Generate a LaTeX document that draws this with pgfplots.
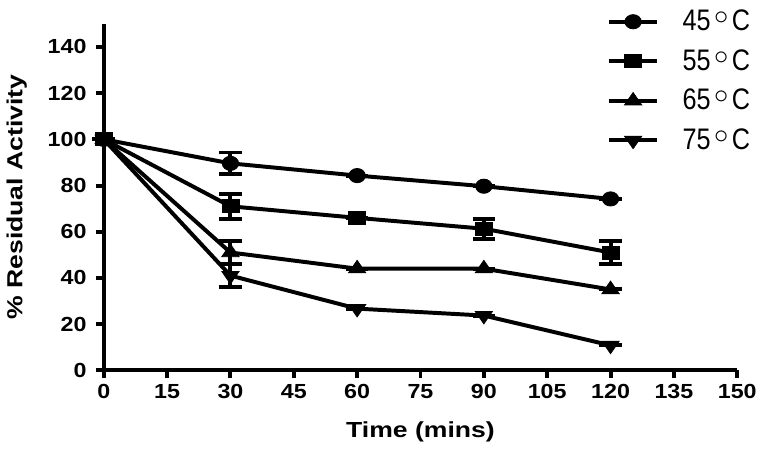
\documentclass[border=0pt]{standalone}
\usepackage{fontspec}
\setmainfont{Liberation Sans}
\newfontfamily\tickfont{Liberation Sans}[FakeStretch=1.14]
\newfontfamily\labfont{Liberation Sans}[FakeStretch=1.22]
\newfontfamily\legfont{Liberation Sans}[FakeStretch=0.85]
\newcommand\degC{\kern2pt\raisebox{0.2em}{$\circ$}\kern1.5pt C}
\usepackage{pgfplots}
\pgfplotsset{compat=1.18}
\begin{document}
\begin{tikzpicture}
\begin{axis}[
  scale only axis, width=320pt, height=175pt,
  xmin=0, xmax=150, ymin=0, ymax=150,
  axis lines*=left, axis line style={line width=2pt, -},
  xtick={0,15,...,150}, ytick={0,20,...,140},
  tick style={line width=2pt, black}, major tick length=4pt, tick align=outside,
  /pgf/number format/assume math mode=true,
  tick label style={font=\tickfont\bfseries\fontsize{10.3}{11}\selectfont},
  xticklabel style={inner sep=1pt, yshift=-2pt},
  yticklabel style={inner sep=1pt, xshift=-3.5pt},
  xlabel={\labfont\bfseries Time (mins)}, ylabel={\labfont\bfseries\% Residual Activity},
  label style={font=\fontsize{11}{12}\selectfont},
  xlabel style={yshift=-7pt}, ylabel style={yshift=6pt},
  clip=false,
  legend style={draw=none, fill=none, at={(rel axis cs:0.785,1.07)}, anchor=north west,
    inner ysep=3pt,
    font=\legfont\fontsize{15}{16}\selectfont, row sep=4pt, column sep=10pt},
  legend cell align=left,
  legend image code/.code={\draw[#1, line width=2pt] (0pt,0pt) -- (24pt,0pt); \draw[#1, mark repeat=2, mark phase=2] plot coordinates {(0pt,0pt) (12pt,0pt) (24pt,0pt)};},
  error bars/error bar style={line width=2pt, black},
  error bars/error mark options={line width=2pt, mark size=5.7pt, rotate=90, black},
]
\addplot[black, line width=2pt, mark=*, mark size=3.6pt, mark options={solid, fill=black, line width=0.4pt, xscale=1.15}, error bars/.cd, y dir=both, y explicit] coordinates {
  (0,100) +- (0,0) (30,89.6) +- (0,4.7) (60,84.3) +- (0,0) (90,79.7) +- (0,0) (120,74.2) +- (0,0)};
\addlegendentry{45\degC}
\addplot[black, line width=2pt, mark=square*, mark size=3.3pt, mark options={solid, fill=black, line width=0.4pt, xscale=1.3}, error bars/.cd, y dir=both, y explicit] coordinates {
  (0,100) +- (0,0) (30,71) +- (0,5.4) (60,66) +- (0,0) (90,61.3) +- (0,4.3) (120,51) +- (0,5)};
\addlegendentry{55\degC}
\addplot[black, line width=2pt, mark=triangle*, mark size=4.2pt, mark options={solid, fill=black, line width=0.4pt, xscale=1.2}, error bars/.cd, y dir=both, y explicit] coordinates {
  (0,100) +- (0,0) (30,51) +- (0,5) (60,44) +- (0,0) (90,44) +- (0,0) (120,35) +- (0,0)};
\addlegendentry{65\degC}
\addplot[black, line width=2pt, mark=triangle*, mark size=4.2pt, mark options={solid, fill=black, line width=0.4pt, rotate=180, xscale=1.2}, error bars/.cd, y dir=both, y explicit] coordinates {
  (0,100) +- (0,0) (30,41) +- (0,5) (60,26.7) +- (0,0) (90,23.7) +- (0,0) (120,10.8) +- (0,0)};
\addlegendentry{75\degC}
\end{axis}
\end{tikzpicture}
\end{document}
